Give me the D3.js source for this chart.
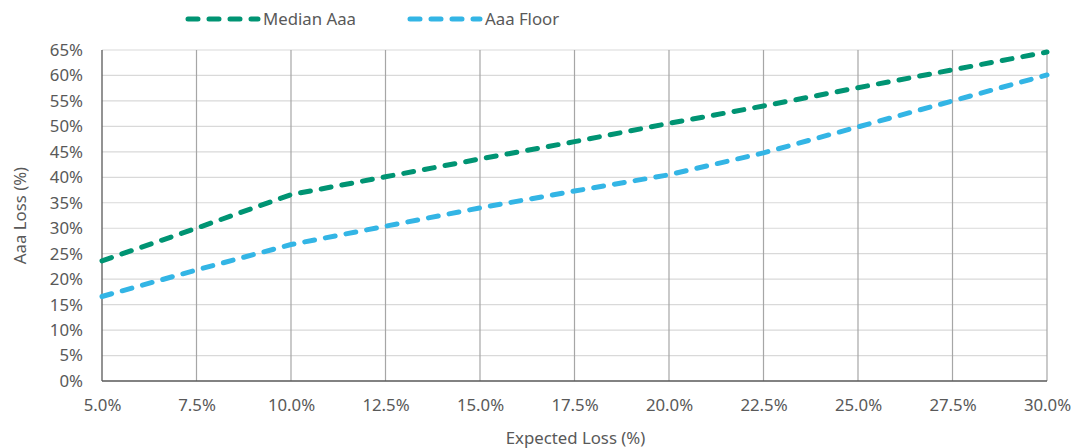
<!DOCTYPE html>
<html><head><meta charset="utf-8">
<script src="https://cdn.jsdelivr.net/npm/d3@7"></script>
<style>body{margin:0;background:#fff}text{font-family:"Noto Sans",sans-serif;fill:#595959}</style>
</head><body><svg id="c" width="1086" height="448"></svg>
<script>
const xValues = [5, 7.5, 10, 12.5, 15, 17.5, 20, 22.5, 25, 27.5, 30];
const medianAaa = [23.6, 30.0, 36.6, 40.1, 43.6, 47.0, 50.6, 54.0, 57.6, 61.1, 64.6];
const aaaFloor = [16.6, 21.8, 26.8, 30.4, 34.0, 37.3, 40.5, 44.8, 49.9, 55.0, 60.1];
const xTicks = [5, 7.5, 10, 12.5, 15, 17.5, 20, 22.5, 25, 27.5, 30];
const yTicks = [0,5,10,15,20,25,30,35,40,45,50,55,60,65];
const seriesNames = ["Median Aaa", "Aaa Floor"];
const seriesColors = ["#009473", "#33b5e5"];

const svg = d3.select("#c");
const L=102, R=1047, T=50, B=381;
const x = d3.scaleLinear().domain([5,30]).range([L,R]);
const y = d3.scaleLinear().domain([0,65]).range([B,T]);
const FS = "16.8px";

svg.append("g").selectAll("line").data(yTicks.filter(d=>d>0)).join("line")
  .attr("x1",L).attr("x2",R).attr("y1",d=>y(d)).attr("y2",d=>y(d))
  .attr("stroke","#d9d9d9").attr("stroke-width",1.2);
svg.append("g").selectAll("line").data(xTicks.filter(d=>d>5)).join("line")
  .attr("x1",d=>x(d)).attr("x2",d=>x(d)).attr("y1",T).attr("y2",B)
  .attr("stroke","#a6a6a6").attr("stroke-width",1.2);
svg.append("line").attr("x1",L).attr("x2",L).attr("y1",T).attr("y2",B).attr("stroke","#595959").attr("stroke-width",1.3);
svg.append("line").attr("x1",L).attr("x2",R).attr("y1",B).attr("y2",B).attr("stroke","#595959").attr("stroke-width",1.3);

const yAxis = d3.axisLeft(y).tickValues(yTicks).tickFormat(d=>d+"%").tickSize(0).tickPadding(19);
const gy = svg.append("g").attr("transform",`translate(${L},0)`).call(yAxis);
gy.select(".domain").remove();
gy.selectAll("text").style("font-size",FS).style("font-family","Noto Sans").attr("fill","#595959");

const xAxis = d3.axisBottom(x).tickValues(xTicks).tickFormat(d=>d.toFixed(1)+"%").tickSize(0).tickPadding(18);
const gx = svg.append("g").attr("transform",`translate(0,${B})`).call(xAxis);
gx.select(".domain").remove();
gx.selectAll("text").style("font-size",FS).style("font-family","Noto Sans").attr("fill","#595959");

svg.append("text").attr("x",(L+R)/2+1).attr("y",444).attr("text-anchor","middle").style("font-size",FS).text("Expected Loss (%)");
svg.append("text").attr("transform",`translate(26,${(T+B)/2}) rotate(-90)`).attr("text-anchor","middle").style("font-size",FS).text("Aaa Loss (%)");

const line = d3.line().x(d=>x(d[0])).y(d=>y(d[1]));
[medianAaa, aaaFloor].forEach((s,i)=>{
  svg.append("path").datum(xValues.map((v,j)=>[v,s[j]])).attr("d",line)
    .attr("fill","none").attr("stroke",seriesColors[i]).attr("stroke-width",5)
    .attr("stroke-dasharray","10,11").attr("stroke-linecap","round");
});

const legX = [188, 410];
seriesNames.forEach((n,i)=>{
  svg.append("line").attr("x1",legX[i]).attr("x2",legX[i]+70).attr("y1",19).attr("y2",19)
    .attr("stroke",seriesColors[i]).attr("stroke-width",5).attr("stroke-dasharray","10,11").attr("stroke-linecap","round");
  svg.append("text").attr("x",legX[i]+75).attr("y",25).style("font-size",FS).text(n);
});
</script></body></html>
